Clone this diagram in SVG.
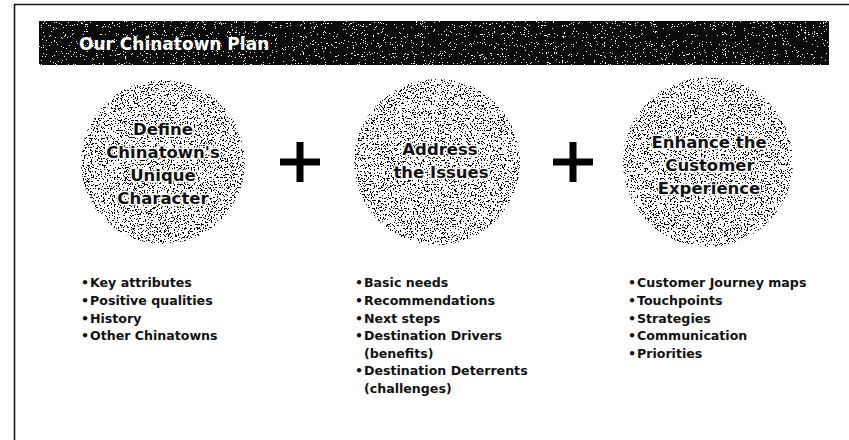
<svg xmlns="http://www.w3.org/2000/svg" width="849" height="440" viewBox="0 0 849 440">
<defs>
  <filter id="speck" x="-5%" y="-5%" width="110%" height="110%">
    <feTurbulence type="fractalNoise" baseFrequency="0.7" numOctaves="2" seed="7" result="n"/>
    <feColorMatrix in="n" type="matrix" values="0 0 0 0 0  0 0 0 0 0  0 0 0 0 0  1 0 0 0 0" result="a"/>
    <feComponentTransfer in="a" result="t">
      <feFuncA type="discrete" tableValues="0 0 0 0 0 0 0 0 0 0 0 0 1 1 1 1 1 1 1 1"/>
    </feComponentTransfer>
    <feComposite in="t" in2="SourceGraphic" operator="in"/>
  </filter>
  <filter id="wspeck" x="0" y="0" width="100%" height="100%">
    <feTurbulence type="fractalNoise" baseFrequency="0.9" numOctaves="2" seed="11" result="n"/>
    <feColorMatrix in="n" type="matrix" values="0 0 0 0 1  0 0 0 0 1  0 0 0 0 1  1 0 0 0 0" result="a"/>
    <feComponentTransfer in="a" result="t">
      <feFuncA type="discrete" tableValues="0 0 0 0 0 0 0 0 0 0 0 0 0 0 1 1 1 1 1 1"/>
    </feComponentTransfer>
    <feComposite in="t" in2="SourceGraphic" operator="in"/>
  </filter>
</defs>
<style>
  .frame { stroke: #1a1a1a; stroke-width: 1.6; fill: none; }
  .disc { fill: #ffffff; }
  .tex { fill: #000000; filter: url(#speck); }
  .ctext { font-family: "DejaVu Sans", "Liberation Sans", sans-serif; font-weight: bold; font-size: 16.5px; fill: #111111; text-anchor: middle; stroke: #ffffff; stroke-width: 3; stroke-linejoin: round; paint-order: stroke; }
  .plus { fill: #000000; }
  .list { font-family: "DejaVu Sans", "Liberation Sans", sans-serif; font-weight: bold; font-size: 12.6px; fill: #111111; }
  .title { font-family: "DejaVu Sans", "Liberation Sans", sans-serif; font-weight: bold; font-size: 17px; fill: #ffffff; }
</style>
<rect width="849" height="440" fill="#ffffff"/>
<g id="frame">
  <line class="frame" x1="14" y1="4.5" x2="849" y2="4.5"/>
  <line class="frame" x1="14.5" y1="4" x2="14.5" y2="440"/>
</g>
<g id="title-bar">
  <rect x="39" y="21" width="790" height="44" fill="#0a0a0a"/>
  <rect x="39" y="21" width="790" height="44" fill="#ffffff" filter="url(#wspeck)"/>
  <text class="title" x="79" y="50">Our Chinatown Plan</text>
</g>
<g id="node-define">
  <circle class="disc" cx="163" cy="162" r="82"/>
  <circle class="tex" cx="163" cy="162" r="82"/>
  <text class="ctext"><tspan x="163" y="135">Define</tspan><tspan x="163" y="158">Chinatown's</tspan><tspan x="163" y="181">Unique</tspan><tspan x="163" y="204">Character</tspan></text>
</g>
<g id="node-address">
  <circle class="disc" cx="437" cy="162" r="83"/>
  <circle class="tex" cx="437" cy="162" r="83"/>
  <text class="ctext"><tspan x="440" y="155">Address</tspan><tspan x="441" y="178">the Issues</tspan></text>
</g>
<g id="node-enhance">
  <circle class="disc" cx="708" cy="162" r="85"/>
  <circle class="tex" cx="708" cy="162" r="85"/>
  <text class="ctext"><tspan x="709" y="148">Enhance the</tspan><tspan x="710" y="171">Customer</tspan><tspan x="709" y="194">Experience</tspan></text>
</g>
<g id="connectors">
  <g id="plus-1" class="plus">
    <rect x="280" y="158.5" width="40" height="7"/>
    <rect x="296.5" y="142" width="7" height="40"/>
  </g>
  <g id="plus-2" class="plus">
    <rect x="553" y="158.5" width="40" height="7"/>
    <rect x="569.5" y="142" width="7" height="40"/>
  </g>
</g>
<g id="list-define" class="list">
  <text><tspan x="81" y="287">•</tspan><tspan x="90" y="287">Key attributes</tspan></text>
  <text><tspan x="81" y="305">•</tspan><tspan x="90" y="305">Positive qualities</tspan></text>
  <text><tspan x="81" y="322.5">•</tspan><tspan x="90" y="322.5">History</tspan></text>
  <text><tspan x="81" y="340">•</tspan><tspan x="90" y="340">Other Chinatowns</tspan></text>
</g>
<g id="list-address" class="list">
  <text><tspan x="355" y="287">•</tspan><tspan x="364" y="287">Basic needs</tspan></text>
  <text><tspan x="355" y="305">•</tspan><tspan x="364" y="305">Recommendations</tspan></text>
  <text><tspan x="355" y="322.5">•</tspan><tspan x="364" y="322.5">Next steps</tspan></text>
  <text><tspan x="355" y="340">•</tspan><tspan x="364" y="340">Destination Drivers</tspan></text>
  <text><tspan x="364" y="357.5">(benefits)</tspan></text>
  <text><tspan x="355" y="375">•</tspan><tspan x="364" y="375">Destination Deterrents</tspan></text>
  <text><tspan x="364" y="392.5">(challenges)</tspan></text>
</g>
<g id="list-enhance" class="list">
  <text><tspan x="628" y="287">•</tspan><tspan x="637" y="287">Customer Journey maps</tspan></text>
  <text><tspan x="628" y="305">•</tspan><tspan x="637" y="305">Touchpoints</tspan></text>
  <text><tspan x="628" y="322.5">•</tspan><tspan x="637" y="322.5">Strategies</tspan></text>
  <text><tspan x="628" y="340">•</tspan><tspan x="637" y="340">Communication</tspan></text>
  <text><tspan x="628" y="357.5">•</tspan><tspan x="637" y="357.5">Priorities</tspan></text>
</g>
</svg>
